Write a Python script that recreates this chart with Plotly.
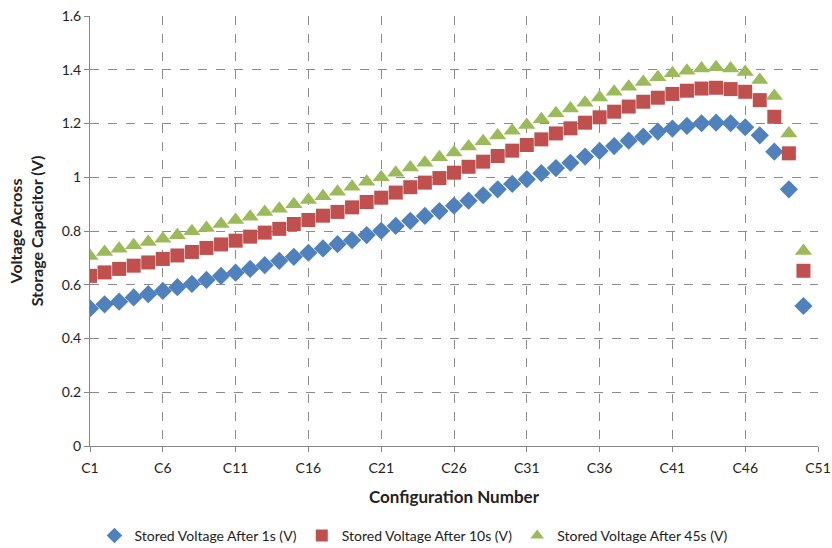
import plotly.graph_objects as go

# Configuration labels (C51 is only a tick position, no measurements)
configs = [f"C{i}" for i in range(1, 52)]
tick_labels = [f"C{i}" for i in range(1, 52, 5)]

v_1s = [0.512, 0.527, 0.537, 0.553, 0.565, 0.577, 0.591, 0.603, 0.618, 0.633,
        0.645, 0.659, 0.673, 0.689, 0.704, 0.719, 0.735, 0.751, 0.766, 0.785,
        0.801, 0.819, 0.838, 0.856, 0.874, 0.894, 0.913, 0.933, 0.955, 0.975,
        0.993, 1.015, 1.034, 1.054, 1.077, 1.098, 1.116, 1.136, 1.151, 1.170,
        1.181, 1.191, 1.201, 1.203, 1.201, 1.186, 1.156, 1.095, 0.955, 0.521]

v_10s = [0.633, 0.646, 0.659, 0.671, 0.683, 0.696, 0.709, 0.722, 0.737, 0.750,
         0.764, 0.779, 0.794, 0.808, 0.826, 0.841, 0.857, 0.871, 0.888, 0.908,
         0.924, 0.943, 0.963, 0.980, 0.997, 1.017, 1.039, 1.058, 1.079, 1.099,
         1.120, 1.141, 1.163, 1.182, 1.203, 1.223, 1.244, 1.263, 1.281, 1.296,
         1.310, 1.322, 1.330, 1.333, 1.328, 1.318, 1.287, 1.225, 1.089, 0.652]

v_45s = [0.707, 0.722, 0.734, 0.747, 0.759, 0.771, 0.784, 0.799, 0.811, 0.826,
         0.841, 0.853, 0.871, 0.883, 0.900, 0.915, 0.929, 0.946, 0.965, 0.983,
         1.000, 1.017, 1.036, 1.054, 1.074, 1.092, 1.114, 1.134, 1.155, 1.173,
         1.194, 1.216, 1.238, 1.256, 1.277, 1.297, 1.318, 1.337, 1.354, 1.372,
         1.387, 1.396, 1.405, 1.409, 1.405, 1.392, 1.362, 1.302, 1.163, 0.726]

series = [
    ("Stored Voltage After 1s (V)", v_1s, "#4F81BD", "diamond", 14),
    ("Stored Voltage After 10s (V)", v_10s, "#C0504D", "square", 14),
    ("Stored Voltage After 45s (V)", v_45s, "#9BBB59", "triangle-up", 15),
]

FONT = "Lato"
fig = go.Figure()
for name, vals, color, symbol, size in series:
    fig.add_trace(go.Scatter(
        x=configs[:len(vals)], y=vals, mode="markers", name=name,
        marker=dict(color=color, symbol=symbol, size=size, line=dict(width=0)),
    ))

fig.update_layout(
    width=832, height=548,
    margin=dict(l=90, r=14, t=16, b=102, autoexpand=False),
    paper_bgcolor="white", plot_bgcolor="white",
    font=dict(family=FONT, size=14, color="#222"),
    showlegend=True,
    legend=dict(orientation="h", x=0.445, xanchor="center",
                yref="container", y=0.022, yanchor="middle",
                font=dict(size=14), itemsizing="constant", itemwidth=30,
                tracegroupgap=0),
)
fig.update_xaxes(
    type="category", categoryorder="array", categoryarray=configs,
    range=[0, 50], tickmode="array", tickvals=tick_labels, ticktext=tick_labels,
    showline=True, linecolor="#868686", linewidth=1,
    ticks="outside", ticklen=5, tickcolor="#868686", ticklabelstandoff=4,
    showgrid=True, gridcolor="#8c8c8c", griddash="dash", gridwidth=1,
    tickfont=dict(size=14),
    title=dict(text="<b>Configuration Number</b>", font=dict(size=17), standoff=16),
)
fig.update_yaxes(
    range=[0, 1.6], dtick=0.2, tickformat="~g",
    showline=True, linecolor="#868686", linewidth=1,
    ticks="outside", ticklen=5, tickcolor="#868686",
    showgrid=True, gridcolor="#8c8c8c", griddash="dash", gridwidth=1,
    zeroline=False, tickfont=dict(size=14),
    title=dict(text="<b>Voltage Across<br>Storage Capacitor (V)</b>",
               font=dict(size=16), standoff=14),
)

fig.write_html("out.html")
